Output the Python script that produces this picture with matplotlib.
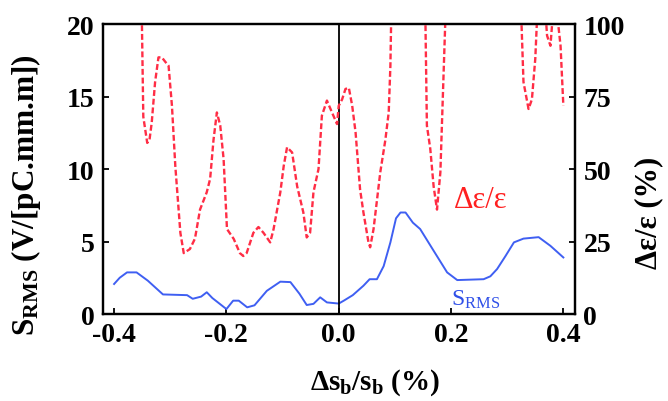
import matplotlib
matplotlib.use("Agg")
import matplotlib.pyplot as plt

plt.rcParams['font.family'] = ['Liberation Serif', 'DejaVu Serif']
plt.rcParams['mathtext.fontset'] = 'custom'
plt.rcParams['mathtext.rm'] = 'Liberation Serif'
plt.rcParams['mathtext.it'] = 'Liberation Serif'
plt.rcParams['mathtext.bf'] = 'Liberation Serif:bold'

# S_RMS (left axis)
srms_x = [-0.4, -0.39, -0.377, -0.36, -0.34, -0.313, -0.27, -0.26, -0.245, -0.235,
          -0.225, -0.2, -0.188, -0.178, -0.163, -0.15, -0.128, -0.104, -0.086, -0.07,
          -0.057, -0.045, -0.033, -0.021, 0.0, 0.009, 0.025, 0.044, 0.055, 0.068,
          0.08, 0.092, 0.102, 0.11, 0.119, 0.132, 0.145, 0.17, 0.193, 0.211,
          0.258, 0.27, 0.282, 0.297, 0.312, 0.329, 0.356, 0.377, 0.4]
srms_y = [2.07, 2.5, 2.87, 2.87, 2.3, 1.35, 1.3, 1.05, 1.2, 1.5,
          1.1, 0.34, 0.92, 0.92, 0.46, 0.6, 1.6, 2.23, 2.2, 1.4,
          0.62, 0.7, 1.15, 0.8, 0.72, 0.92, 1.3, 1.95, 2.4, 2.4,
          3.3, 4.94, 6.6, 7.0, 7.0, 6.3, 5.86, 4.3, 2.87, 2.34,
          2.4, 2.6, 3.1, 4.0, 4.94, 5.2, 5.3, 4.7, 3.9]

# emittance change in % (right axis), values above 100 run off the top
de_x = [-0.352, -0.348, -0.341, -0.337, -0.333, -0.327, -0.321, -0.315, -0.309, -0.303,
        -0.297, -0.291, -0.282, -0.276, -0.265, -0.256, -0.247, -0.235, -0.229, -0.223,
        -0.217, -0.211, -0.205, -0.199, -0.187, -0.176, -0.17, -0.164, -0.152, -0.143,
        -0.134, -0.122, -0.116, -0.104, -0.098, -0.092, -0.083, -0.074, -0.063, -0.057,
        -0.051, -0.045, -0.036, -0.03, -0.021, -0.012, -0.003, 0.0, 0.006, 0.012,
        0.018, 0.024, 0.03, 0.038, 0.044, 0.053, 0.056, 0.062, 0.074, 0.083,
        0.089, 0.092, 0.095, 0.153, 0.157, 0.163, 0.169, 0.175, 0.181, 0.187,
        0.193, 0.322, 0.329, 0.338, 0.344, 0.35, 0.355, 0.366, 0.371, 0.377,
        0.382, 0.388, 0.395, 0.4]
de_y = [120, 68, 59, 60, 66, 80, 88.5, 88.5, 87, 85.6,
        71.8, 51, 28, 21, 22.4, 26, 36, 42, 46.6, 60,
        69.5, 65, 53.4, 29.3, 25.9, 21, 20, 21, 28, 30,
        28, 24.7, 29.3, 42, 51, 57.5, 55.7, 44, 35, 26.4,
        28, 42, 50, 68.4, 73.6, 69.5, 65.5, 71.8, 74, 77.6,
        78, 71.8, 62.6, 43, 35, 24.7, 23, 29.3, 48.9, 60,
        69.5, 85.6, 120, 120, 65, 57, 44, 36, 48.9, 84.5,
        120, 120, 80, 70.7, 74, 88, 110, 110, 96, 92.5,
        105, 105, 92.5, 71.8]

xticks = [-0.4, -0.2, 0.0, 0.2, 0.4]
yticks_left = [0, 5, 10, 15, 20]
yticks_right = [0, 25, 50, 75, 100]

fig = plt.figure(figsize=(6.68, 4.02), dpi=100)
ax = fig.add_axes([0.154, 0.2164, 0.707, 0.7214])
ax2 = ax.twinx()

ax.plot(srms_x, srms_y, color='#3f5ff2', lw=1.4)
ax.axvline(0.0, color='black', lw=1.3)
ax2.plot(de_x, de_y, color='#ff2d45', lw=1.7, linestyle=(0, (2.5, 1.2)))

ax.set_xlim(-0.42, 0.421)
ax.set_ylim(0, 20)
ax2.set_ylim(0, 100)
ax.set_xticks(xticks)
ax.set_xticklabels(['%.1f' % v for v in xticks])
ax.set_yticks(yticks_left)
ax2.set_yticks(yticks_right)

for a in (ax, ax2):
    a.tick_params(direction='in', length=4, width=1.3, labelsize=20, pad=6)
    for s in a.spines.values():
        s.set_linewidth(1.6)
    for lab in a.get_xticklabels() + a.get_yticklabels():
        lab.set_fontweight('bold')

ax.set_ylabel(r'$\mathbf{S_{RMS}}$ (V/[pC.mm.m])', fontsize=22.5, fontweight='bold')
ax.yaxis.set_label_coords(-0.127, 0.414)
ax2.set_ylabel('Δε/ε (%)', fontsize=22, fontweight='bold')
ax2.yaxis.set_label_coords(1.125, 0.352)
ax.set_xlabel(r'$\mathbf{Δs_b/s_b}$ (%)', fontsize=21, fontweight='bold')
ax.xaxis.set_label_coords(0.576, -0.18)

ax.text(0.252, 7.9, 'Δε/ε', color='#ff2020', fontsize=22, ha='center', va='center')
ax.text(0.243, 1.03, r'$\mathregular{S_{RMS}}$', color='#3050e8', fontsize=17,
        ha='center', va='center')

fig.savefig('out.png', dpi=100)
